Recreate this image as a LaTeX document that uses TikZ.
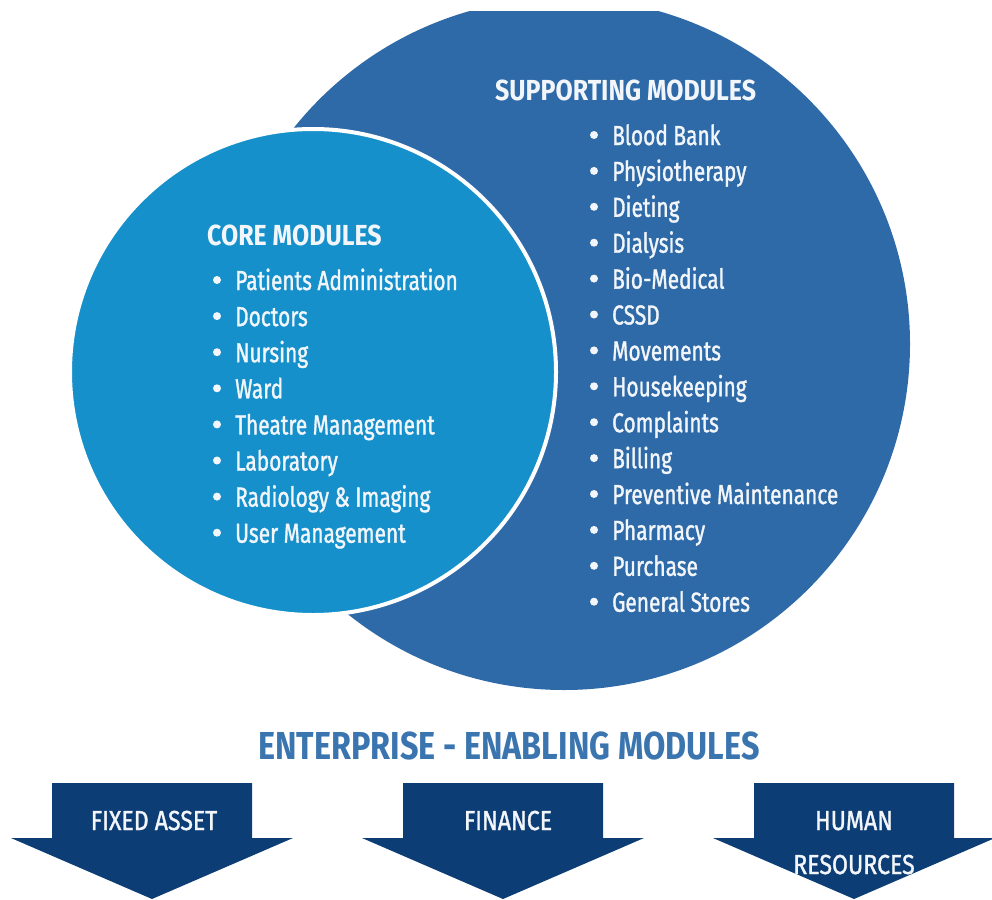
\documentclass[tikz,border=0pt]{standalone}
\usepackage{fontspec}
\setmainfont{Fira Sans}
\newfontfamily\itemfont{Fira Sans}[FakeStretch=0.76, FakeBold=1.2]
\newfontfamily\headfont{Fira Sans}[FakeStretch=0.86]
\newfontfamily\titlefont{Fira Sans}[FakeStretch=0.83]
\newfontfamily\arrowfont{Fira Sans}[FakeStretch=0.84, FakeBold=1.2]
\definecolor{bigblue}{HTML}{2E6AA7}
\definecolor{coreblue}{HTML}{1590CB}
\definecolor{navyarrow}{HTML}{0D3D75}
\definecolor{titleblue}{HTML}{3A75AF}
\definecolor{txtwhite}{HTML}{F2F6FA}
\begin{document}
\begin{tikzpicture}[x=1pt,y=-1pt,
  itemtext/.style={anchor=base west, text=txtwhite, inner sep=0pt, font=\itemfont\fontsize{27.5}{30}\selectfont},
  headtext/.style={anchor=base west, text=txtwhite, inner sep=0pt, font=\headfont\bfseries\fontsize{29}{30}\selectfont},
  arrowtext/.style={anchor=base, text=txtwhite, inner sep=0pt, font=\arrowfont\fontsize{27.5}{30}\selectfont},
  bulletdot/.style={fill=txtwhite},
  arrowshape/.style={fill=navyarrow}]
\useasboundingbox (0,0) rectangle (992,899);
\begin{scope}
  \clip (0,12) rectangle (992,899);
  \fill[bigblue] (564,344) circle[radius=346pt];
\end{scope}
\fill[coreblue, draw=white, line width=4pt] (313,372) circle[radius=243pt];
% headings
\node[headtext] (supporthead) at (495,100) {SUPPORTING MODULES};
\node[headtext] (corehead) at (207,245) {CORE MODULES};
% supporting items
\foreach \t [count=\i from 0] in {Blood Bank,Physiotherapy,Dieting,Dialysis,Bio-Medical,CSSD,Movements,Housekeeping,Complaints,Billing,Preventive Maintenance,Pharmacy,Purchase,General Stores}{
  \node[itemtext] (s\i) at (612,{145+35.9*\i}) {\t};
  \fill[bulletdot] (594,{135+35.9*\i}) circle[radius=4pt];
}
% core items
\foreach \t [count=\i from 0] in {Patients Administration,Doctors,Nursing,Ward,Theatre Management,Laboratory,Radiology \& Imaging,User Management}{
  \node[itemtext] (c\i) at (235,{290+36.1*\i}) {\t};
  \fill[bulletdot] (217,{280+36.1*\i}) circle[radius=4pt];
}
% title
\node[anchor=base, text=titleblue, inner sep=0pt, font=\titlefont\bfseries\fontsize{39}{40}\selectfont] (enterprise) at (509,759) {ENTERPRISE - ENABLING MODULES};
% arrows
\foreach \cx/\nm in {152/a1,503/a2,854/a3}{
  \fill[arrowshape] (\cx-100,783) -- (\cx+100,783) -- (\cx+100,838) -- (\cx+141,838) -- (\cx,899) -- (\cx-141,838) -- (\cx-100,838) -- cycle;
}
\node[arrowtext] (fixed) at (154,830) {FIXED ASSET};
\node[arrowtext] (finance) at (508,830) {FINANCE};
\node[arrowtext] (human) at (854,830) {HUMAN};
\node[arrowtext] (resources) at (854,874) {RESOURCES};
\end{tikzpicture}
\end{document}
